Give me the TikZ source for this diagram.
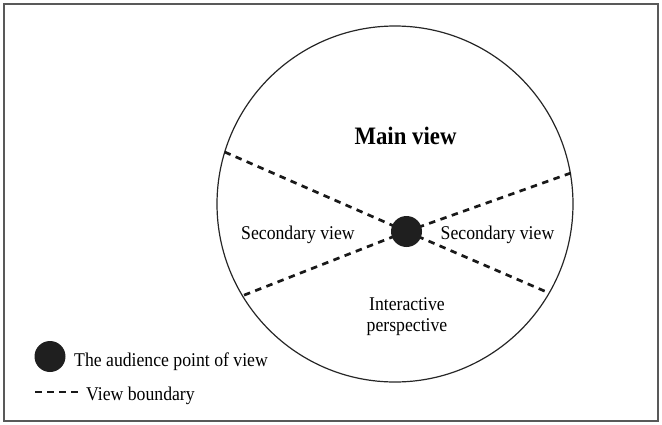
\documentclass[tikz,border=0pt]{standalone}
\usepackage{fontspec}
\setmainfont{Liberation Serif}
\newcommand{\vstretch}[1]{\scalebox{1}[1.1]{#1}}
\begin{document}
\begin{tikzpicture}[x=1pt,y=-1pt,
  frame/.style={draw=black!65, line width=1.8pt},
  bigcircle/.style={draw=black!85, line width=1.2pt, circle, minimum size=356pt, inner sep=0pt},
  dot/.style={circle, fill=black!88, minimum size=31pt, inner sep=0pt},
  boundary/.style={draw=black!90, line width=2.7pt, dash pattern=on 6.5pt off 5.5pt},
  lbl/.style={font=\fontsize{17.7}{21}\selectfont, inner sep=0pt},
  titlelbl/.style={font=\fontsize{22.8}{26}\selectfont\bfseries, inner sep=0pt}]
\useasboundingbox (0,0) rectangle (662,424);
\draw[frame] (4,4) rectangle (658,421);
\node[bigcircle] (circ) at (395,204) {};
\coordinate (vc) at (406.5,231.5);
\draw[boundary] (vc) -- (circ.163.1);
\draw[boundary] (vc) -- (circ.211.0);
\draw[boundary] (vc) -- (circ.10.0);
\draw[boundary] (vc) -- (circ.-30.6);
\node[dot] (v) at (vc) {};
\node[titlelbl] (main) at (405.5,136) {\vstretch{Main view}};
\node[lbl] (secl) at (298,235) {\vstretch{Secondary view}};
\node[lbl] (secr) at (497.5,235) {\vstretch{Secondary view}};
\node[lbl, anchor=base] (inter1) at (407,310) {\vstretch{Interactive}};
\node[lbl, anchor=base] (inter2) at (407,331) {\vstretch{perspective}};
\node[dot] (ldot) at (50,356.5) {};
\node[lbl, anchor=base west] (ltext1) at (74,366) {\vstretch{The audience point of view}};
\coordinate (lb1) at (35,392);
\coordinate (lb2) at (79,392);
\draw[boundary] (lb1) -- (lb2);
\node[lbl, anchor=base west] (ltext2) at (86,400) {\vstretch{View boundary}};
\end{tikzpicture}
\end{document}
